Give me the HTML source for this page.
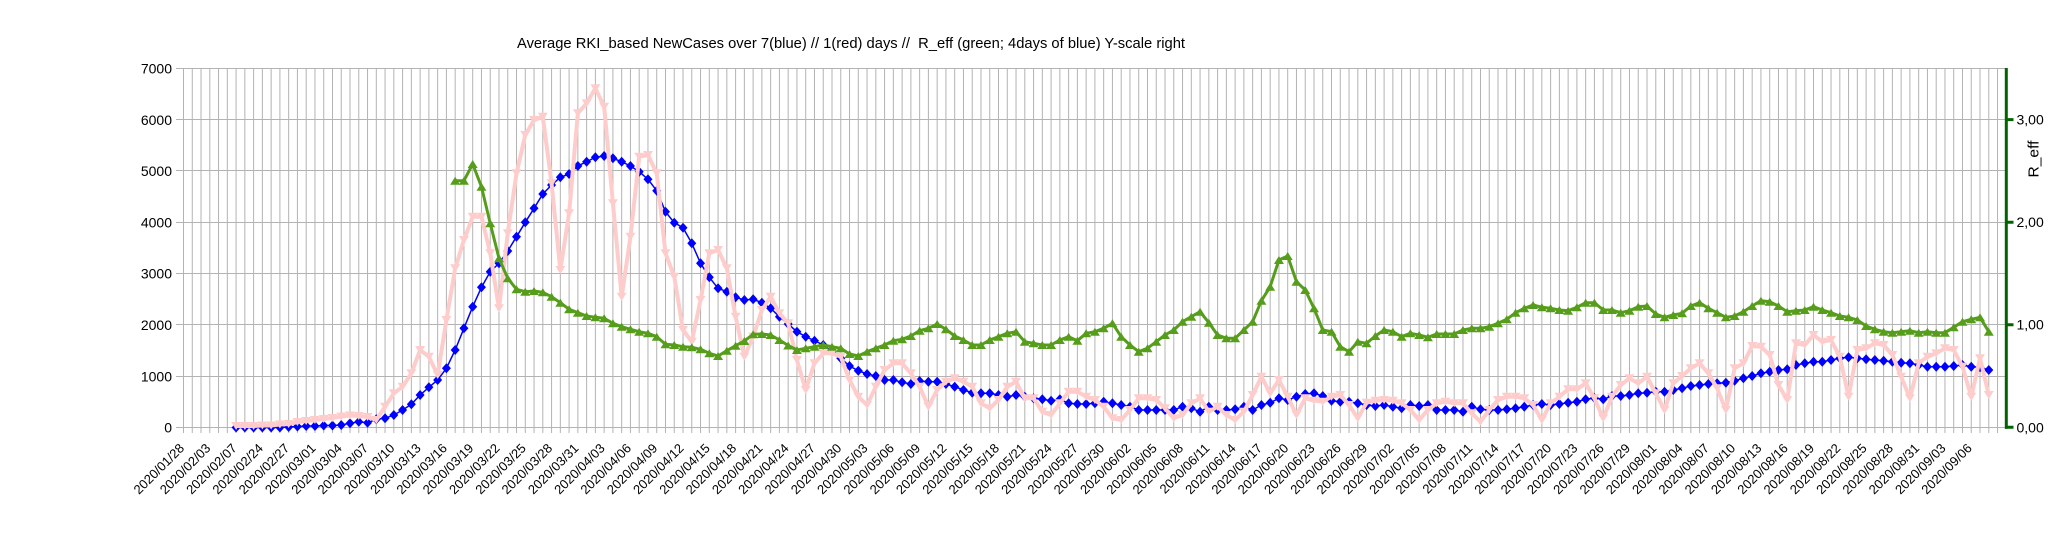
<!DOCTYPE html>
<html><head><meta charset="utf-8"><style>html,body{margin:0;padding:0;background:#fff}svg{display:block}</style></head>
<body>
<svg width="2048" height="537" viewBox="0 0 2048 537" xmlns="http://www.w3.org/2000/svg" font-family="'Liberation Sans', Arial, sans-serif">
<defs>
<marker id="md" markerUnits="userSpaceOnUse" markerWidth="1" markerHeight="1" refX="0" refY="0" overflow="visible"><path d="M0-5L.5135 0 0 5-.5135 0Z" fill="#0000ff"/></marker>
<marker id="mp" markerUnits="userSpaceOnUse" markerWidth="1" markerHeight="1" refX="0" refY="0" overflow="visible"><path d="M-.5705-4L.5705-4 0 4Z" fill="#ffcccc"/></marker>
<marker id="mg" markerUnits="userSpaceOnUse" markerWidth="1" markerHeight="1" refX="0" refY="0" overflow="visible"><path d="M-.5705 4L.5705 4 0-4Z" fill="#579d1c"/></marker>
</defs>
<rect width="2048" height="537" fill="#fff"/>
<text x="517" y="48" font-size="14.5" textLength="668" lengthAdjust="spacingAndGlyphs" fill="#000" style="white-space:pre">Average RKI_based NewCases over 7(blue) // 1(red) days //  R_eff (green; 4days of blue) Y-scale right</text>
<!-- vertical grid -->
<line x1="183" y1="250.65" x2="2000" y2="250.65" stroke="#b3b3b3" stroke-width="364.7" stroke-dasharray="1 7.7635"/>
<!-- horizontal grid -->
<path d="M176 68.5H2006M176 119.5H2006M176 170.5H2006M176 222.5H2006M176 273.5H2006M176 324.5H2006M176 376.5H2006M176 427.5H2006" stroke="#b3b3b3" stroke-width="1" fill="none"/>
<!-- left labels -->
<g font-size="14" text-anchor="end" fill="#000">
<text x="172" y="73.5">7000</text>
<text x="172" y="124.8">6000</text>
<text x="172" y="176.1">5000</text>
<text x="172" y="227.4">4000</text>
<text x="172" y="278.7">3000</text>
<text x="172" y="330">2000</text>
<text x="172" y="381.3">1000</text>
<text x="172" y="432.6">0</text>
</g>
<!-- series -->
<g transform="translate(183.5 0) scale(8.7635 1)">
<polyline fill="none" stroke="#0000ff" stroke-width="1.5" vector-effect="non-scaling-stroke" marker-start="url(#md)" marker-mid="url(#md)" marker-end="url(#md)" points="6,427.5 7,427.5 8,427.5 9,427.5 10,427.5 11,427.5 12,427 13,426.5 14,426 15,426 16,425.5 17,425.5 18,425 19,423.3 20,421.7 21,422.7 22,419.3 23,418.3 24,415 25,410 26,404.3 27,395 28,387.3 29,380 30,368.3 31,350 32,328.3 33,306.7 34,287.3 35,271.7 36,263.3 37,251 38,236.7 39,222.3 40,208.3 41,194 42,185 43,177.3 44,174 45,166 46,161.7 47,157.3 48,156 49,158.3 50,161.7 51,166 52,171.7 53,179.3 54,190.7 55,211.7 56,222.7 57,227.7 58,243.3 59,263.3 60,277.3 61,288.3 62,291.7 63,297.3 64,300 65,299.3 66,302.7 67,308.3 68,316.7 69,324 70,331.7 71,336.7 72,340.7 73,345 74,351.7 75,358.3 76,366 77,370.7 78,374 79,376 80,380 81,380 82,382.3 83,384 84,381 85,381.7 86,381.7 87,384 88,386.7 89,390 90,392.7 91,393.3 92,393.3 93,395 94,396.7 95,395 96,396.7 97,398.3 98,399.3 99,400.7 100,399.3 101,403.3 102,404 103,404 104,403.3 105,401.7 106,403.3 107,405 108,406.7 109,410 110,410 111,410 112,410 113,410 114,406.7 115,408.3 116,411.7 117,406.7 118,410 119,410 120,409.3 121,406.7 122,410 123,405 124,402.7 125,398.3 126,400 127,396.7 128,394 129,393.3 130,396 131,400.7 132,401.7 133,401.7 134,403.3 135,405 136,406 137,405 138,406.7 139,408.3 140,405 141,406 142,405 143,410 144,410 145,410 146,411.7 147,406.7 148,409.3 149,410 150,410 151,409.3 152,408.3 153,406.7 154,405 155,404 156,405 157,404 158,402.7 159,401.7 160,399.3 161,398 162,399.3 163,396 164,396 165,395 166,393.3 167,392.7 168,391.7 169,391.7 170,390 171,388.3 172,386 173,385 174,384 175,383.3 176,382.7 177,380.7 178,378.3 179,376 180,373.3 181,371.7 182,370 183,369.3 184,365 185,363.3 186,361.7 187,361.7 188,360 189,358.3 190,357.3 191,358.3 192,359.3 193,360 194,360.7 195,361.7 196,362.7 197,363.3 198,365 199,366.7 200,366.7 201,366.7 202,366 203,365 204,366.7 205,367.3 206,370"/>
<polyline fill="none" stroke="#ffcccc" stroke-width="4" stroke-linejoin="round" vector-effect="non-scaling-stroke" marker-start="url(#mp)" marker-mid="url(#mp)" marker-end="url(#mp)" points="6,426 7,426 8,426 9,425.5 10,425.5 11,424.5 12,424 13,422 14,421 15,420 16,419 17,418 18,416.5 19,415.5 20,416 21,417 22,420 23,406.7 24,393.3 25,386.7 26,373.3 27,350 28,356.7 29,375 30,320 31,268.3 32,240 33,216.7 34,216.7 35,253.3 36,308.3 37,233.3 38,173.3 39,135 40,120 41,116.7 42,183.3 43,270 44,213.3 45,113.3 46,103.3 47,88.3 48,106.7 49,203.3 50,296.7 51,236.7 52,156.7 53,155 54,173.3 55,253.3 56,276.7 57,330 58,341.7 59,300 60,253.3 61,250 62,268.3 63,316.7 64,356.7 65,336.7 66,310 67,296.7 68,313.3 69,323.3 70,360 71,390 72,363.3 73,353.3 74,353.3 75,356.7 76,380 77,396.7 78,405 79,386.7 80,370 81,363.3 82,363.3 83,373.3 84,386.7 85,406.7 86,390 87,381.7 88,378.3 89,381.7 90,386.7 91,403.3 92,408.3 93,400 94,386.7 95,381.7 96,398.3 97,398.3 98,411.7 99,415 100,403.3 101,391.7 102,391.7 103,396.7 104,400 105,406.7 106,418.3 107,420 108,410 109,398.3 110,398.3 111,400 112,408.3 113,418.3 114,415 115,403.3 116,398.3 117,411.7 118,406.7 119,415 120,420 121,411.7 122,395 123,376.7 124,393.3 125,380 126,396.7 127,415 128,398.3 129,400.7 130,401.7 131,396.7 132,395 133,405 134,418.3 135,402.7 136,400.7 137,400 138,400.7 139,403.3 140,410 141,420 142,410 143,403.3 144,401.7 145,403.3 146,403.3 147,413.3 148,421.7 149,410 150,400 151,396.7 152,396.7 153,398.3 154,405 155,420 156,403.3 157,396.7 158,389.3 159,389.3 160,383.3 161,398.3 162,418.3 163,396.7 164,385 165,378.3 166,383.3 167,376.7 168,393.3 169,410 170,383.3 171,376 172,368.3 173,363.3 174,373.3 175,388.3 176,410 177,368.3 178,363.3 179,346 180,346.7 181,355 182,385 183,400 184,343.3 185,345 186,335 187,341.7 188,340 189,356.7 190,396.7 191,350 192,348.3 193,343.3 194,345 195,355 196,376.7 197,398.3 198,363.3 199,356.7 200,353.3 201,348.3 202,350 203,366.7 204,396.7 205,358.3 206,395"/>
<polyline fill="none" stroke="#579d1c" stroke-width="3" stroke-linejoin="round" vector-effect="non-scaling-stroke" marker-start="url(#mg)" marker-mid="url(#mg)" marker-end="url(#mg)" points="31,180.7 32,180.7 33,164 34,186.7 35,223.3 36,258.3 37,278.3 38,289.3 39,291.7 40,291 41,292.3 42,296.7 43,302.7 44,309.3 45,312.7 46,316 47,317.3 48,318.3 49,323.3 50,326.7 51,329.3 52,331.7 53,333.3 54,336.7 55,344.3 56,345 57,346.7 58,347.3 59,349.3 60,353.3 61,356 62,350.7 63,345.7 64,341 65,334.3 66,334 67,335 68,340 69,345.5 70,350 71,348.3 72,346.7 73,345 74,346.7 75,348.3 76,354 77,356 78,351.7 79,348.3 80,345 81,340.7 82,339.3 83,336 84,330.7 85,328.3 86,324 87,329.3 88,336 89,340 90,345 91,345 92,340 93,336.7 94,333.3 95,331.7 96,341.7 97,343.3 98,345 99,345 100,340 101,336.7 102,340.7 103,333.3 104,331.7 105,328.3 106,323.3 107,336.7 108,345 109,351.7 110,348.3 111,341.7 112,335 113,330 114,321.7 115,316.7 116,311.7 117,322.7 118,335 119,338.3 120,338.3 121,330 122,321.7 123,300.7 124,286.7 125,260 126,256 127,281.7 128,290 129,308.3 130,330 131,331.7 132,346.7 133,351.7 134,341.7 135,343.3 136,336 137,330 138,331.7 139,336.7 140,333.3 141,335 142,337.3 143,334 144,334 145,334 146,330 147,328.3 148,328.3 149,326.7 150,323.3 151,319.3 152,312.7 153,308.3 154,305 155,307.3 156,308.3 157,310 158,310.7 159,307.3 160,302.7 161,302.7 162,310 163,310 164,312.7 165,310.7 166,306.7 167,306 168,314 169,317.3 170,315 171,313.3 172,306 173,302.7 174,308.3 175,312.7 176,317.3 177,316 178,311.7 179,306 180,300.7 181,301.7 182,306 183,311.7 184,310.7 185,310 186,306.7 187,310 188,312.7 189,316 190,317.3 191,320 192,326 193,329.3 194,331.7 195,332.7 196,331.7 197,330.7 198,332.7 199,331.7 200,332.7 201,332.7 202,327.3 203,321.7 204,319.3 205,317.3 206,331.7"/>
</g>
<!-- right axis -->
<line x1="2006.3" y1="68" x2="2006.3" y2="428.8" stroke="#006400" stroke-width="3"/>
<path d="M2005 427.3H2013.5M2005 324.7H2013.5M2005 222.2H2013.5M2005 119.6H2013.5" stroke="#006400" stroke-width="3" fill="none"/>
<g font-size="14" fill="#000">
<text x="2016.5" y="432.3">0,00</text>
<text x="2016.5" y="329.7">1,00</text>
<text x="2016.5" y="227.2">2,00</text>
<text x="2016.5" y="124.6">3,00</text>
<text transform="translate(2038.5 159) rotate(-90)" text-anchor="middle" font-size="15" textLength="37" lengthAdjust="spacingAndGlyphs">R_eff</text>
</g>
<!-- date labels -->
<g transform="translate(185 0) scale(8.7635 1)" font-size="13" text-anchor="end" fill="#000">
<text transform="translate(0 449) scale(.11411 1) rotate(-45)">2020/01/28</text>
<text transform="translate(3 449) scale(.11411 1) rotate(-45)">2020/02/03</text>
<text transform="translate(6 449) scale(.11411 1) rotate(-45)">2020/02/07</text>
<text transform="translate(9 449) scale(.11411 1) rotate(-45)">2020/02/24</text>
<text transform="translate(12 449) scale(.11411 1) rotate(-45)">2020/02/27</text>
<text transform="translate(15 449) scale(.11411 1) rotate(-45)">2020/03/01</text>
<text transform="translate(18 449) scale(.11411 1) rotate(-45)">2020/03/04</text>
<text transform="translate(21 449) scale(.11411 1) rotate(-45)">2020/03/07</text>
<text transform="translate(24 449) scale(.11411 1) rotate(-45)">2020/03/10</text>
<text transform="translate(27 449) scale(.11411 1) rotate(-45)">2020/03/13</text>
<text transform="translate(30 449) scale(.11411 1) rotate(-45)">2020/03/16</text>
<text transform="translate(33 449) scale(.11411 1) rotate(-45)">2020/03/19</text>
<text transform="translate(36 449) scale(.11411 1) rotate(-45)">2020/03/22</text>
<text transform="translate(39 449) scale(.11411 1) rotate(-45)">2020/03/25</text>
<text transform="translate(42 449) scale(.11411 1) rotate(-45)">2020/03/28</text>
<text transform="translate(45 449) scale(.11411 1) rotate(-45)">2020/03/31</text>
<text transform="translate(48 449) scale(.11411 1) rotate(-45)">2020/04/03</text>
<text transform="translate(51 449) scale(.11411 1) rotate(-45)">2020/04/06</text>
<text transform="translate(54 449) scale(.11411 1) rotate(-45)">2020/04/09</text>
<text transform="translate(57 449) scale(.11411 1) rotate(-45)">2020/04/12</text>
<text transform="translate(60 449) scale(.11411 1) rotate(-45)">2020/04/15</text>
<text transform="translate(63 449) scale(.11411 1) rotate(-45)">2020/04/18</text>
<text transform="translate(66 449) scale(.11411 1) rotate(-45)">2020/04/21</text>
<text transform="translate(69 449) scale(.11411 1) rotate(-45)">2020/04/24</text>
<text transform="translate(72 449) scale(.11411 1) rotate(-45)">2020/04/27</text>
<text transform="translate(75 449) scale(.11411 1) rotate(-45)">2020/04/30</text>
<text transform="translate(78 449) scale(.11411 1) rotate(-45)">2020/05/03</text>
<text transform="translate(81 449) scale(.11411 1) rotate(-45)">2020/05/06</text>
<text transform="translate(84 449) scale(.11411 1) rotate(-45)">2020/05/09</text>
<text transform="translate(87 449) scale(.11411 1) rotate(-45)">2020/05/12</text>
<text transform="translate(90 449) scale(.11411 1) rotate(-45)">2020/05/15</text>
<text transform="translate(93 449) scale(.11411 1) rotate(-45)">2020/05/18</text>
<text transform="translate(96 449) scale(.11411 1) rotate(-45)">2020/05/21</text>
<text transform="translate(99 449) scale(.11411 1) rotate(-45)">2020/05/24</text>
<text transform="translate(102 449) scale(.11411 1) rotate(-45)">2020/05/27</text>
<text transform="translate(105 449) scale(.11411 1) rotate(-45)">2020/05/30</text>
<text transform="translate(108 449) scale(.11411 1) rotate(-45)">2020/06/02</text>
<text transform="translate(111 449) scale(.11411 1) rotate(-45)">2020/06/05</text>
<text transform="translate(114 449) scale(.11411 1) rotate(-45)">2020/06/08</text>
<text transform="translate(117 449) scale(.11411 1) rotate(-45)">2020/06/11</text>
<text transform="translate(120 449) scale(.11411 1) rotate(-45)">2020/06/14</text>
<text transform="translate(123 449) scale(.11411 1) rotate(-45)">2020/06/17</text>
<text transform="translate(126 449) scale(.11411 1) rotate(-45)">2020/06/20</text>
<text transform="translate(129 449) scale(.11411 1) rotate(-45)">2020/06/23</text>
<text transform="translate(132 449) scale(.11411 1) rotate(-45)">2020/06/26</text>
<text transform="translate(135 449) scale(.11411 1) rotate(-45)">2020/06/29</text>
<text transform="translate(138 449) scale(.11411 1) rotate(-45)">2020/07/02</text>
<text transform="translate(141 449) scale(.11411 1) rotate(-45)">2020/07/05</text>
<text transform="translate(144 449) scale(.11411 1) rotate(-45)">2020/07/08</text>
<text transform="translate(147 449) scale(.11411 1) rotate(-45)">2020/07/11</text>
<text transform="translate(150 449) scale(.11411 1) rotate(-45)">2020/07/14</text>
<text transform="translate(153 449) scale(.11411 1) rotate(-45)">2020/07/17</text>
<text transform="translate(156 449) scale(.11411 1) rotate(-45)">2020/07/20</text>
<text transform="translate(159 449) scale(.11411 1) rotate(-45)">2020/07/23</text>
<text transform="translate(162 449) scale(.11411 1) rotate(-45)">2020/07/26</text>
<text transform="translate(165 449) scale(.11411 1) rotate(-45)">2020/07/29</text>
<text transform="translate(168 449) scale(.11411 1) rotate(-45)">2020/08/01</text>
<text transform="translate(171 449) scale(.11411 1) rotate(-45)">2020/08/04</text>
<text transform="translate(174 449) scale(.11411 1) rotate(-45)">2020/08/07</text>
<text transform="translate(177 449) scale(.11411 1) rotate(-45)">2020/08/10</text>
<text transform="translate(180 449) scale(.11411 1) rotate(-45)">2020/08/13</text>
<text transform="translate(183 449) scale(.11411 1) rotate(-45)">2020/08/16</text>
<text transform="translate(186 449) scale(.11411 1) rotate(-45)">2020/08/19</text>
<text transform="translate(189 449) scale(.11411 1) rotate(-45)">2020/08/22</text>
<text transform="translate(192 449) scale(.11411 1) rotate(-45)">2020/08/25</text>
<text transform="translate(195 449) scale(.11411 1) rotate(-45)">2020/08/28</text>
<text transform="translate(198 449) scale(.11411 1) rotate(-45)">2020/08/31</text>
<text transform="translate(201 449) scale(.11411 1) rotate(-45)">2020/09/03</text>
<text transform="translate(204 449) scale(.11411 1) rotate(-45)">2020/09/06</text>
</g>
</svg>
</body></html>
